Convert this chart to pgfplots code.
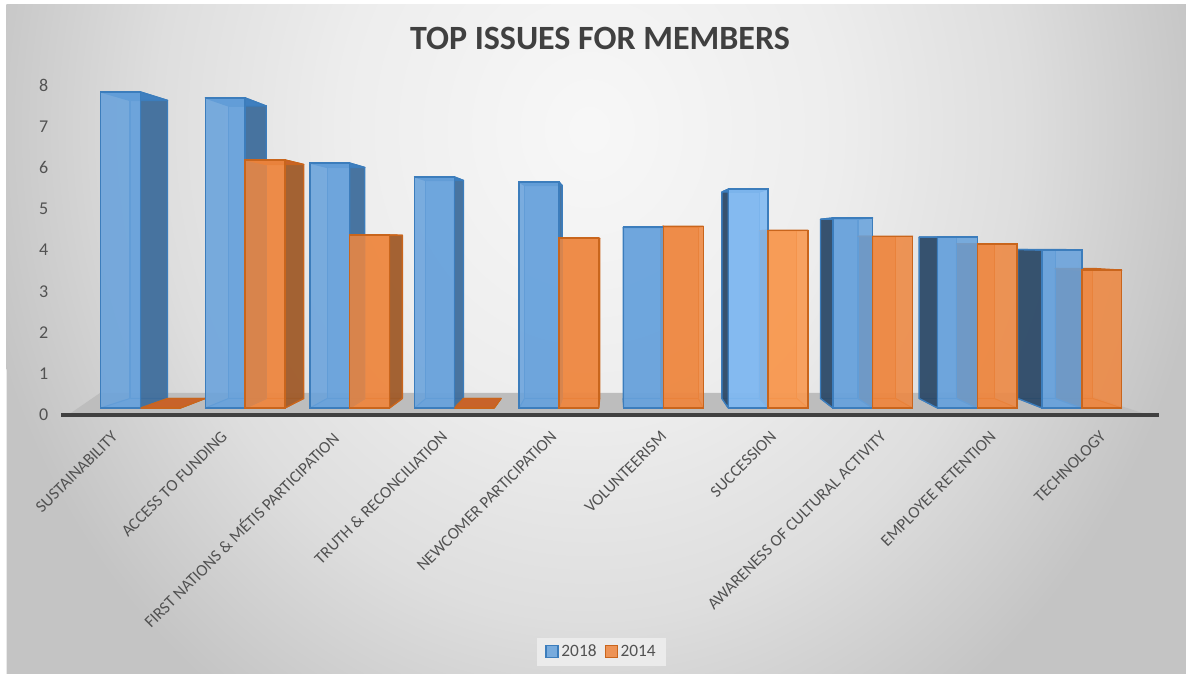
\documentclass[border=0pt]{standalone}
\usepackage{pgfplots}
\pgfplotsset{compat=1.18}
\usepackage{fontspec}
\setmainfont{Carlito}
\definecolor{txt}{HTML}{525252}
\definecolor{blueF}{HTML}{68A2DC}
\definecolor{blueL}{HTML}{82BAF2}
\definecolor{blueE}{HTML}{3C7DBC}
\definecolor{blueS}{HTML}{3F6C99}
\definecolor{blueD}{HTML}{2C4763}
\definecolor{blueT}{HTML}{3F7FBF}
\definecolor{orF}{HTML}{EE8740}
\definecolor{orL}{HTML}{F99A52}
\definecolor{orE}{HTML}{C9651C}
\definecolor{orS}{HTML}{9C5A2B}
\definecolor{orT}{HTML}{C8632A}
% the path's box fills the central 50bp of the shading, so 25bp is its rim
\pgfdeclareradialshading{vignette}{\pgfpoint{0bp}{0bp}}{%
  color(0bp)=(black!3); color(10bp)=(black!7); color(17.5bp)=(black!13); color(25bp)=(black!23); color(50bp)=(black!23)}
% 1 px of the canvas = 0.75pt; axis B has x in px, y in data units (0 at 408 px, 39.5 px per unit)
\newcommand\kd{0.057}
\newcommand\vpv{4.25}
% Rear faces and side wall of one 3D column
\newcommand\BarShell[6]{%
  \pgfmathsetmacro\xlb{#1+\kd*(615-#1)}%
  \pgfmathsetmacro\xrb{#2+\kd*(615-#2)}%
  \pgfmathsetmacro\vb{#3+\kd*(\vpv-#3)}%
  \pgfmathsetmacro\vz{\kd*\vpv}%
  \addplot[forget plot,draw=#5,line width=0.8pt,line join=round,fill=#4,fill opacity=0.6] coordinates {(\xlb,\vz) (\xrb,\vz) (\xrb,\vb) (\xlb,\vb)} -- cycle;
  \addplot[forget plot,draw=#5,line width=0.8pt,line join=round,fill=#4,fill opacity=0.6] coordinates {(#1,0) (#2,0) (\xrb,\vz) (\xlb,\vz)} -- cycle;
  \ifdim #2pt<615pt
    \addplot[forget plot,draw=#5,line width=1pt,line join=round,fill=#6,fill opacity=0.9] coordinates {(#2,0) (#2,#3) (\xrb,\vb) (\xrb,\vz)} -- cycle;
  \else
    \addplot[forget plot,draw=#5,line width=1pt,line join=round,fill=#6,fill opacity=0.9] coordinates {(#1,0) (#1,#3) (\xlb,\vb) (\xlb,\vz)} -- cycle;
  \fi
}
\newcommand\BlueShell[3]{\BarShell{#1}{#2}{#3}{blueF}{blueE}{blueS}}
\newcommand\BlueShellD[3]{\BarShell{#1}{#2}{#3}{blueF}{blueE}{blueD}}
\newcommand\OrangeShell[3]{\BarShell{#1}{#2}{#3}{orF}{orE}{orS}}
\newcommand\Roof[5]{%
  \pgfmathsetmacro\xlb{#1+\kd*(615-#1)}%
  \pgfmathsetmacro\xrb{#2+\kd*(615-#2)}%
  \pgfmathsetmacro\vb{#3+\kd*(\vpv-#3)}%
  \addplot[forget plot,draw=#5,line width=1pt,line join=round,fill=#4] coordinates {(#1,#3) (#2,#3) (\xrb,\vb) (\xlb,\vb)} -- cycle;
}
\begin{document}
\begin{tikzpicture}
% canvas with a soft grey vignette
\path[use as bounding box,fill=white] (0,0) rectangle (889.5pt,506.25pt);
\begin{scope}
  \clip (5pt,0.75pt) rectangle (889.5pt,502.5pt);
  \fill[black!23] (0,0) rectangle (889.5pt,506.25pt);
  \shade[shading=vignette] (442pt,409pt) ellipse [x radius=465pt,y radius=525pt];
\end{scope}
% rear wall gridlines
\begin{axis}[at={(67.5pt,211.5pt)},anchor=south west,scale only axis,
  width=744pt,height=214.8pt,xmin=0,xmax=1,ymin=0,ymax=8,
  axis lines=none,ytick={1,...,8},xtick=\empty,ymajorgrids,
  grid style={draw=black!17,line width=1.1pt}]
\end{axis}
% columns
\begin{axis}[at={(0pt,0pt)},anchor=south west,scale only axis,
  width=889.5pt,height=506.25pt,xmin=0,xmax=1186,
  ymin=-6.7595,ymax=10.3291,hide axis,clip=false,
  title={TOP ISSUES FOR MEMBERS},
  title style={at={(0.5059,0.9304)},anchor=center,font=\fontsize{25.5}{28}\selectfont\bfseries,text=black!75},
  legend style={at={(0.5075,0.0341)},anchor=center,draw=none,fill=black!8,
    legend columns=2,font=\fontsize{13}{15}\selectfont,text=txt,
    /tikz/every even column/.style={column sep=4pt},inner xsep=6pt,inner ysep=3pt}]
% floor
\addplot[forget plot,draw=none,fill=black!26] coordinates {(68,-0.177) (1148,-0.177) (1082,0.38) (100,0.38)} -- cycle;
% 2014 column shells, behind the 2018 front faces
\OrangeShell{140.5}{180.3}{0}
\OrangeShell{245.1}{284.9}{6.28}
\OrangeShell{349.7}{389.5}{4.38}
\OrangeShell{454.3}{494.1}{0}
\OrangeShell{558.9}{598.7}{4.30}
\OrangeShell{663.5}{703.3}{4.60}
\OrangeShell{768.1}{807.9}{4.50}
\OrangeShell{872.7}{912.5}{4.35}
\OrangeShell{977.3}{1017.1}{4.15}
\OrangeShell{1081.9}{1121.7}{3.49}
% 2018 column shells
\BlueShell{100.7}{140.5}{8.00}
\BlueShell{205.3}{245.1}{7.85}
\BlueShell{309.9}{349.7}{6.20}
\BlueShell{414.5}{454.3}{5.85}
\BlueShell{519.1}{558.9}{5.72}
\BlueShellD{623.7}{663.5}{4.58}
\BlueShellD{728.3}{768.1}{5.54}
\BlueShellD{832.9}{872.7}{4.81}
\BlueShellD{937.5}{977.3}{4.33}
\BlueShellD{1042.1}{1081.9}{4.00}
% roofs
\Roof{140.5}{180.3}{0}{orT}{orE}
\Roof{245.1}{284.9}{6.28}{orT}{orE}
\Roof{349.7}{389.5}{4.38}{orT}{orE}
\Roof{454.3}{494.1}{0}{orT}{orE}
\Roof{558.9}{598.7}{4.30}{orT}{orE}
\Roof{663.5}{703.3}{4.60}{orT}{orE}
\Roof{768.1}{807.9}{4.50}{orT}{orE}
\Roof{872.7}{912.5}{4.35}{orT}{orE}
\Roof{977.3}{1017.1}{4.15}{orT}{orE}
\Roof{1081.9}{1121.7}{3.49}{orT}{orE}
\Roof{100.7}{140.5}{8.00}{blueT}{blueE}
\Roof{205.3}{245.1}{7.85}{blueT}{blueE}
\Roof{309.9}{349.7}{6.20}{blueT}{blueE}
\Roof{414.5}{454.3}{5.85}{blueT}{blueE}
\Roof{519.1}{558.9}{5.72}{blueT}{blueE}
\Roof{623.7}{663.5}{4.58}{blueT}{blueE}
\Roof{728.3}{768.1}{5.54}{blueT}{blueE}
\Roof{832.9}{872.7}{4.81}{blueT}{blueE}
\Roof{937.5}{977.3}{4.33}{blueT}{blueE}
\Roof{1042.1}{1081.9}{4.00}{blueT}{blueE}
% front faces
\addplot[ybar,bar width=29.85pt,bar shift=-14.925pt,draw=blueE,line width=1pt,fill=blueF,fill opacity=0.87,
  legend image code/.code={\draw[draw=blueE,fill=blueF,line width=1pt] (0pt,-4pt) rectangle (9pt,5pt);}]
  coordinates {(140.5,8.00) (245.1,7.85) (349.7,6.20) (454.3,5.85) (558.9,5.72) (663.5,4.58) (872.7,4.81) (977.3,4.33) (1081.9,4.00)};
\addlegendentry{2018}
\addplot[ybar,bar width=29.85pt,bar shift=14.925pt,draw=orE,line width=1pt,fill=orF,fill opacity=0.87,
  legend image code/.code={\draw[draw=orE,fill=orF,line width=1pt] (0pt,-4pt) rectangle (9pt,5pt);}]
  coordinates {(140.5,0) (245.1,6.28) (349.7,4.38) (454.3,0) (558.9,4.30) (663.5,4.60) (872.7,4.35) (977.3,4.15) (1081.9,3.49)};
\addlegendentry{2014}
% Succession column pair in its brighter tint
\addplot[forget plot,ybar,bar width=29.85pt,bar shift=-14.925pt,draw=blueE,line width=1pt,fill=blueL,fill opacity=0.9]
  coordinates {(768.1,5.54)};
\addplot[forget plot,ybar,bar width=29.85pt,bar shift=14.925pt,draw=orE,line width=1pt,fill=orL,fill opacity=0.9]
  coordinates {(768.1,4.50)};
\end{axis}
% category and value scales on the front plane
\begin{axis}[at={(45.75pt,195pt)},anchor=south west,scale only axis,
  width=823.5pt,height=247.5pt,xmin=-0.5,xmax=9.5,ymin=0,ymax=8,
  axis x line=bottom,axis y line=left,
  x axis line style={draw=black!75,line width=2.4pt,-},
  y axis line style={draw=none},
  major tick length=0pt,
  xtick={0,...,9},ytick={0,...,8},
  /pgf/number format/assume math mode=true,
  yticklabel style={font=\fontsize{13.5}{15}\selectfont,text=txt,xshift=-6pt},
  xticklabel style={font=\fontsize{12.5}{14}\selectfont,text=txt,rotate=45,anchor=north east,inner sep=1pt,yshift=-4pt,xshift=-9.5pt},
  xticklabels={SUSTAINABILITY,ACCESS TO FUNDING,FIRST NATIONS \& MÉTIS PARTICIPATION,TRUTH \& RECONCILIATION,NEWCOMER PARTICIPATION,VOLUNTEERISM,SUCCESSION,AWARENESS OF CULTURAL ACTIVITY,EMPLOYEE RETENTION,TECHNOLOGY}]
\end{axis}
\end{tikzpicture}
\end{document}
